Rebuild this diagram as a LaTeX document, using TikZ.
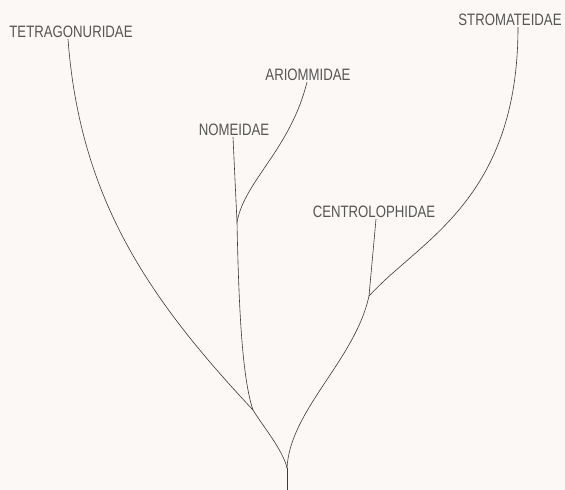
\documentclass[tikz,border=0pt]{standalone}
\usepackage{fontspec}
\usepackage{xcolor}
\usepackage{tikz}
\usetikzlibrary{calc}
\newfontfamily\taxfont[FakeStretch=0.8]{Liberation Sans}
\definecolor{paper}{HTML}{FBF8F5}
\definecolor{ink}{HTML}{3A3A3A}
\definecolor{print}{HTML}{555555}

\begin{document}
\begin{tikzpicture}[x=1pt,y=-1pt,
  taxon/.style={font=\taxfont\fontsize{16.5}{16.5}\selectfont, text=print, inner sep=1pt},
  branch/.style={line width=0.6pt, ink}]
  % Page
  \useasboundingbox[fill=paper] (0,0) rectangle (565,490);

  % Family labels
  \node[taxon] (tetra) at (71,32) {TETRAGONURIDAE};
  \node[taxon] (nome) at (234,130) {NOMEIDAE};
  \node[taxon] (ariom) at (308,75) {ARIOMMIDAE};
  \node[taxon] (centro) at (374,212) {CENTROLOPHIDAE};
  \node[taxon] (strom) at (510,20) {STROMATEIDAE};

  % Branch points
  \coordinate (root) at (287,490);
  \coordinate (base) at (287,468);
  \coordinate (jL) at (253,410);
  \coordinate (jN) at (237,222);
  \coordinate (jC) at (369,296);

  % Stem
  \draw[branch] (root) -- (base);

  % Left clade
  \draw[branch] (base) .. controls (283,450) and (262,425) .. (jL);
  \draw[branch] (jL) .. controls (150,300) and (80,200) .. ([xshift=-3pt]tetra.south);
  \draw[branch] (jL) .. controls (243,380) and (239,320) .. (jN);
  \draw[branch] (jN) -- ([xshift=-1pt]nome.south);
  \draw[branch] (jN) .. controls (245,180) and (290,150) .. ([xshift=-1pt]ariom.south);

  % Right clade
  \draw[branch] (base) .. controls (290,410) and (355,360) .. (jC);
  \draw[branch] (jC) -- ([xshift=2pt]centro.south);
  \draw[branch] (jC) .. controls (420,240) and (518,200) .. ([xshift=8pt]strom.south);
\end{tikzpicture}
\end{document}
